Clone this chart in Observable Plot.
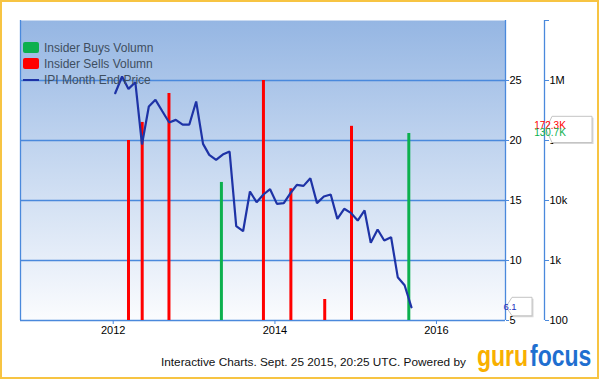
<!DOCTYPE html>
<html><head><meta charset="utf-8">
<script src="https://cdn.jsdelivr.net/npm/d3@7"></script>
<script src="https://cdn.jsdelivr.net/npm/@observablehq/plot@0.6"></script>
<style>
body{margin:0;background:#fff;font-family:"Liberation Sans",Arial,Helvetica,sans-serif}
#wrap{position:relative;width:600px;height:380px;overflow:hidden;background:#fff}
#chart{position:absolute;left:0;top:0}
#border{position:absolute;left:0;top:0;width:599px;height:379px;box-sizing:border-box;border:2.5px solid #f7c443;pointer-events:none}
#legend{position:absolute;left:23px;top:42px;font-size:12px;color:#3e4e60}
.item{position:absolute;left:0;white-space:nowrap;height:12px}
.sw{position:absolute;left:0;top:0;width:16px;height:11px;border-radius:2px}
.ln{position:absolute;left:0;top:5px;width:16px;height:2px}
.lab{position:absolute;left:21px;top:-1.5px;line-height:14px}
#footer{position:absolute;left:161px;top:355px;font-size:11.8px;color:#111;white-space:nowrap}
#logo{position:absolute;left:474px;top:336px}
</style></head><body>
<div id="wrap">
  <div id="chart"></div>
  <div id="legend"></div>
  <div id="footer">Interactive Charts. Sept. 25 2015, 20:25 UTC. Powered by</div>
  <svg id="logo" width="122" height="44">
    <g transform="scale(1,1.26)" font-size="23" font-weight="bold" font-family="'Liberation Sans',Arial,sans-serif">
      <text x="3" y="24" fill="#f8b000">guru</text>
      <text x="56" y="24" fill="#1f6fd0">focus</text>
    </g>
  </svg>
  <div id="border"></div>
</div>
<script>
// ---- data ----
const priceMonths = [
  "2012-01","2012-02","2012-03","2012-04","2012-05","2012-06","2012-07","2012-08","2012-09","2012-10","2012-11","2012-12",
  "2013-01","2013-02","2013-03","2013-04","2013-05","2013-06","2013-07","2013-08","2013-09","2013-10","2013-11","2013-12",
  "2014-01","2014-02","2014-03","2014-04","2014-05","2014-06","2014-07","2014-08","2014-09","2014-10","2014-11","2014-12",
  "2015-01","2015-02","2015-03","2015-04","2015-05","2015-06","2015-07","2015-08","2015-09"];
const priceValues = [
  23.94,25.33,24.30,24.86,19.67,22.83,23.39,22.44,21.50,21.72,21.33,21.33,
  23.25,19.72,18.80,18.39,18.83,19.08,12.86,12.44,15.75,14.86,15.50,15.94,
  14.72,14.78,15.56,16.30,16.22,16.86,14.78,15.33,15.50,13.47,14.31,13.97,
  13.33,14.17,11.47,12.58,11.67,11.94,8.61,7.94,6.10];
const buyDates = ["2013-05-04","2015-08-29"];
const buyVolumes = [20000,130700];
const sellDates = ["2012-03-10","2012-05-11","2012-09-09","2013-11-10","2014-03-14","2014-08-14","2014-12-13"];
const sellVolumes = [100000,200000,607000,1000000,15700,224,172300];
const xTickYears = ["2012","2014","2016"];
const priceTicks = [5,10,15,20,25];
const volTickValues = [100,1000,10000,100000,1000000,10000000];
const volTickLabels = ["100","1k","10k","100k","1M",""];
const legendLabels = ["Insider Buys Volumn","Insider Sells Volumn","IPI Month End Price"];
const lastPriceLabel = "6.1";
const lastSellLabel = "172.3K";
const lastBuyLabel = "130.7K";

// ---- styles ----
const BLUE = "#4a89dc", LINE = "#1e33a6", RED = "#ff0000", GREEN = "#0cb04e";

const prices = priceMonths.map((m,i) => ({date: new Date(m + "-10"), price: priceValues[i]}));
const buys = buyDates.map((d,i) => ({date: new Date(d), vol: buyVolumes[i]}));
const sells = sellDates.map((d,i) => ({date: new Date(d), vol: sellVolumes[i]}));
const xDomain = [new Date("2010-11-08"), new Date("2016-11-08")];
const yDomain = [5, 30];
// volume (log) mapped onto the shared y range
const vol = d3.scaleLog().domain([100, 1e7]).range(yDomain);
const volLabelMap = new Map(volTickValues.map((v,i) => [vol(v), volTickLabels[i]]));

const plot = Plot.plot({
  width: 600, height: 340,
  marginLeft: 20, marginTop: 20, marginRight: 95, marginBottom: 20,
  style: {fontFamily: "'Liberation Sans', Arial, sans-serif", color: "#000", background: "transparent"},
  x: {type: "utc", domain: xDomain},
  y: {domain: yDomain},
  marks: [
    Plot.frame({fill: "url(#bgGrad)", stroke: "none"}),
    Plot.ruleY(priceTicks.slice(1), {stroke: BLUE, strokeWidth: 1.3}),
    Plot.ruleX([xDomain[0]], {stroke: BLUE, strokeWidth: 1.3}),
    Plot.ruleY([yDomain[0]], {stroke: BLUE, strokeWidth: 1.3}),
    Plot.ruleX([xDomain[1]], {stroke: BLUE, strokeWidth: 1.3}),
    Plot.ruleX([xDomain[1]], {stroke: BLUE, strokeWidth: 1.3, dx: 39}),
    Plot.ruleX(sells, {x: "date", y1: yDomain[0], y2: d => vol(d.vol), stroke: RED, strokeWidth: 3}),
    Plot.ruleX(buys, {x: "date", y1: yDomain[0], y2: d => vol(d.vol), stroke: GREEN, strokeWidth: 3}),
    Plot.line(prices, {x: "date", y: "price", stroke: LINE, strokeWidth: 2.2, strokeLinejoin: "miter"}),
    Plot.axisX({ticks: xTickYears.map(y => new Date(y + "-01-01")), tickFormat: d => String(d.getUTCFullYear()),
      tickSize: 4, tickPadding: 2, fontSize: 11, color: "#000", stroke: BLUE, label: null}),
    Plot.axisY({anchor: "right", ticks: priceTicks, tickFormat: d => String(d), tickSize: 3, tickPadding: 1,
      fontSize: 11, color: "#000", stroke: BLUE, label: null}),
    Plot.axisY({anchor: "right", ticks: volTickValues.map(v => vol(v)), tickFormat: d => volLabelMap.get(d),
      tickSize: 4, tickPadding: 1, fontSize: 11, color: "#000", stroke: BLUE, dx: 39, label: null})
  ]
});

const svg = d3.select(plot);
const grad = svg.insert("defs", ":first-child").append("linearGradient")
  .attr("id", "bgGrad").attr("x1", 0).attr("y1", 0).attr("x2", 0).attr("y2", 1);
grad.append("stop").attr("offset", "0%").attr("stop-color", "#95b6e3");
grad.append("stop").attr("offset", "50%").attr("stop-color", "#c9daf1");
grad.append("stop").attr("offset", "100%").attr("stop-color", "#fbfcfe");

// callouts for latest values
const ys = plot.scale("y"), xs = plot.scale("x");
const xr = xs.apply(xDomain[1]);
function tag(x0, yTop, yBot, yTip, w) {
  const n = 6;
  return `M${x0},${yTip} L${x0+n},${yTop} L${x0+w},${yTop} L${x0+w},${yBot} L${x0+n},${yBot} Z`;
}
function callout(d) {
  g.append("path").attr("d", d).attr("fill", "#d8d8d8").attr("transform", "translate(1.5,1.5)");
  g.append("path").attr("d", d).attr("fill", "#fff").attr("stroke", "#c4c4c4");
}
const g = svg.append("g");
const yp = ys.apply(priceValues[priceValues.length-1]);
callout(tag(xr+1, yp-9.5, yp+9, yp, 26));
g.append("text").attr("x", xr+5).attr("y", yp+3.5).attr("font-size", 9.5).attr("fill", "#1a2fc0").text(lastPriceLabel);
const ySell = ys.apply(vol(sellVolumes[sellVolumes.length-1]));
const yBuy = ys.apply(vol(buyVolumes[buyVolumes.length-1]));
const xv = xr + 41;
callout(tag(xv, ySell-9.5, yBuy+9.5, (ySell+yBuy)/2, 46));
g.append("text").attr("x", xv+4).attr("y", ySell+3).attr("font-size", 10).attr("fill", RED).text(lastSellLabel);
g.append("text").attr("x", xv+4).attr("y", yBuy+3).attr("font-size", 10).attr("fill", GREEN).text(lastBuyLabel);

document.getElementById("chart").appendChild(plot);

// legend
const leg = document.getElementById("legend");
const legColors = [GREEN, RED, LINE];
legendLabels.forEach((t, i) => {
  const it = document.createElement("div");
  it.className = "item";
  it.style.top = (i === 2 ? 32 : i * 16) + "px";
  const sw = document.createElement("div");
  sw.className = i === 2 ? "ln" : "sw";
  sw.style.background = legColors[i];
  const lab = document.createElement("div");
  lab.className = "lab";
  lab.textContent = t;
  it.appendChild(sw); it.appendChild(lab);
  leg.appendChild(it);
});
</script>
</body></html>
